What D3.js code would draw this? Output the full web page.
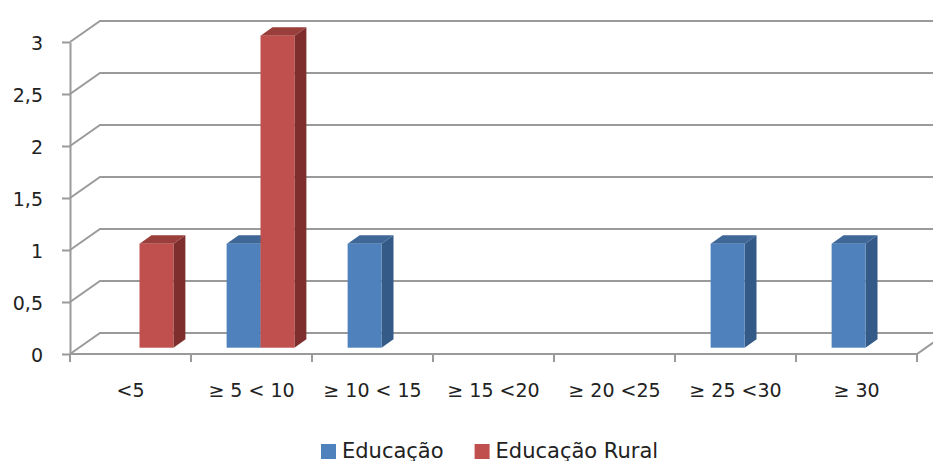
<!DOCTYPE html>
<html>
<head>
<meta charset="utf-8">
<script src="https://cdn.jsdelivr.net/npm/d3@7"></script>
<style>
  body { margin: 0; background: #fff; }
  text { font-family: "DejaVu Sans", sans-serif; fill: #222; }
</style>
</head>
<body>
<div id="container"></div>
<script>
const categories = ["<5", "≥ 5 < 10", "≥ 10 < 15", "≥ 15 <20", "≥ 20 <25", "≥ 25 <30", "≥ 30"];
const seriesNames = ["Educação", "Educação Rural"];
const educacao = [0, 1, 1, 0, 0, 1, 1];
const educacaoRural = [1, 3, 0, 0, 0, 0, 0];
const yTicks = [0, 0.5, 1, 1.5, 2, 2.5, 3];

const W = 933, H = 461;
const axisFont = 19, legendFont = 21;
// 3d look
const depth = { dx: 30, dy: -21 };
const barFront = 0.3, barDepth = 0.4;
const colors = {
  "Educação": { front: "#4f81bd", top: "#3f6798", side: "#345a88" },
  "Educação Rural": { front: "#c0504d", top: "#9a3e3b", side: "#7e2f2d" }
};
const gridColor = "#9a9a9a";

const svg = d3.select("#container").append("svg")
  .attr("width", W).attr("height", H);

const setAttrs = (el, attrs) =>
  Object.entries(attrs).reduce((acc, [key, val]) => acc.attr(key, val), el);

const left = 70, right = 917;
const y = d3.scaleLinear().domain([0, 3]).range([354, 42]);
const x = d3.scaleBand().domain(categories).range([left, right])
  .paddingInner(0.44).paddingOuter(0.22);
const xs = d3.scaleBand().domain(seriesNames).range([0, x.bandwidth()]);

// walls / gridlines
const line = d3.line();
yTicks.forEach((t) => {
  const yy = y(t);
  svg.append("path")
    .attr("d", line([[left, yy], [left + depth.dx, yy + depth.dy], [right + depth.dx, yy + depth.dy]]))
    .attr("fill", "none").attr("stroke", gridColor).attr("stroke-width", 2);
});
// floor front edge + right edge
svg.append("path")
  .attr("d", line([[left, y(0)], [right, y(0)], [right + depth.dx, y(0) + depth.dy]]))
  .attr("fill", "none").attr("stroke", gridColor).attr("stroke-width", 2);

// category ticks (between categories)
const bounds = d3.range(categories.length + 1).map((i) => left + i * x.step());
svg.selectAll(".xtick").data(bounds).join("line")
  .attr("class", "xtick")
  .attr("x1", (d) => d).attr("x2", (d) => d)
  .attr("y1", y(0)).attr("y2", y(0) + 8)
  .attr("stroke", gridColor).attr("stroke-width", 2);

svg.selectAll(".xlabel").data(categories).join("text")
  .attr("class", "xlabel")
  .attr("x", (d) => x(d) + x.bandwidth() / 2)
  .attr("y", 397)
  .attr("text-anchor", "middle")
  .style("font-size", axisFont + "px")
  .text((d) => d);

// y axis
const yAxis = d3.axisLeft(y).tickValues(yTicks)
  .tickFormat((d) => String(d).replace(".", ","))
  .tickSize(8).tickSizeOuter(0).tickPadding(19);
const gy = svg.append("g").attr("transform", `translate(${left},0)`).call(yAxis);
gy.select(".domain").attr("stroke", gridColor).attr("stroke-width", 2);
gy.selectAll(".tick line").attr("stroke", gridColor).attr("stroke-width", 2);
gy.selectAll(".tick text").style("font-size", axisFont + "px")
  .attr("font-family", null).attr("fill", "#222").attr("dy", "0.4em");

// bars
const ox = depth.dx * barFront, oy = depth.dy * barFront;
const bx = depth.dx * barDepth, by = depth.dy * barDepth;
const bars = [];
categories.forEach((c, i) => {
  [educacao, educacaoRural].forEach((vals, s) => {
    if (vals[i] > 0) bars.push({ cat: c, series: seriesNames[s], value: vals[i] });
  });
});

const g = svg.selectAll(".bar").data(bars).join("g").attr("class", "bar");
g.each(function (d) {
  const el = d3.select(this);
  const x0 = x(d.cat) + xs(d.series) + ox;
  const x1 = x0 + xs.bandwidth();
  const yt = y(d.value) + oy;
  const yb = y(0) + oy;
  const col = colors[d.series];
  el.append("path").attr("d", line([[x1, yt], [x1 + bx, yt + by], [x1 + bx, yb + by], [x1, yb]]) + "Z")
    .attr("fill", col.side);
  el.append("path").attr("d", line([[x0, yt], [x1, yt], [x1 + bx, yt + by], [x0 + bx, yt + by]]) + "Z")
    .attr("fill", col.top);
  setAttrs(el.append("rect"), { x: x0, y: yt, width: x1 - x0, height: yb - yt, fill: col.front });
});

// legend
const legend = svg.append("g").attr("transform", "translate(321,444)");
let lx = 0;
seriesNames.forEach((s) => {
  const item = legend.append("g").attr("transform", `translate(${lx},0)`);
  setAttrs(item.append("rect"), { x: 0, y: 0, width: 15, height: 15, fill: colors[s].front });
  const t = item.append("text").attr("x", 21).attr("y", 13.5)
    .style("font-size", legendFont + "px").text(s);
  lx += 21 + t.node().getComputedTextLength() + 31;
});
</script>
</body>
</html>
